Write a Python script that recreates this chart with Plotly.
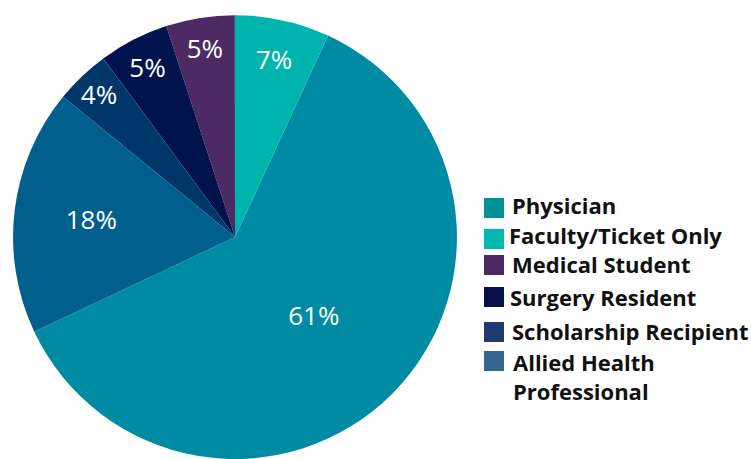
import plotly.graph_objects as go

labels = ["Physician", "Faculty/Ticket Only", "Medical Student", "Surgery Resident",
          "Scholarship Recipient", "Allied Health Professional"]
legend_text = ["Physician", "Faculty/Ticket Only", "Medical Student", "Surgery Resident",
               "Scholarship Recipient", "Allied Health<br>Professional"]
values = [61.1, 6.9, 5.0, 5.1, 4.0, 17.9]
colors = ["#008ba4", "#00b4ae", "#4e2a65", "#00134d", "#00376b", "#005f8d"]
legend_colors = ["#00929a", "#00b8b0", "#4a2863", "#07104a", "#1f3a70", "#336690"]

fig = go.Figure()
fig.add_trace(go.Pie(
    labels=labels,
    values=values,
    sort=False,
    direction="counterclockwise",
    rotation=24.8,
    marker=dict(colors=colors, line=dict(width=0)),
    texttemplate="%{percent:.0%}",
    textposition="inside",
    insidetextorientation="horizontal",
    textfont=dict(family="Open Sans", size=26, color="white"),
    hoverinfo="label+percent",
    domain=dict(x=[11 / 751, 459 / 751], y=[0, 0.967]),
    showlegend=False,
))

# custom legend (swatches + labels)
sw_y = [208, 239, 265, 297, 332, 361]
tx_y = [205.5, 235, 264, 297, 331, 376]
tx_x = [511, 508, 511, 509, 511, 512]
shapes = []
annotations = []
for i, lab in enumerate(legend_text):
    shapes.append(dict(type="rect", xref="paper", yref="paper",
                       x0=484 / 751, x1=504 / 751,
                       y0=1 - (sw_y[i] + 10) / 459, y1=1 - (sw_y[i] - 10) / 459,
                       fillcolor=legend_colors[i], line=dict(width=0)))
    annotations.append(dict(x=tx_x[i] / 751, y=1 - tx_y[i] / 459, xref="paper", yref="paper",
                            xanchor="left", yanchor="middle", align="left",
                            borderpad=0,
                            text="<b>" + lab + "</b>", showarrow=False,
                            font=dict(family="Open Sans", size=22, color="#111111")))

fig.update_layout(
    width=751, height=459,
    margin=dict(l=0, r=0, t=0, b=0),
    paper_bgcolor="white",
    plot_bgcolor="white",
    shapes=shapes,
    annotations=annotations,
    uniformtext=dict(minsize=26, mode="show"),
)

fig.write_html("out.html")
